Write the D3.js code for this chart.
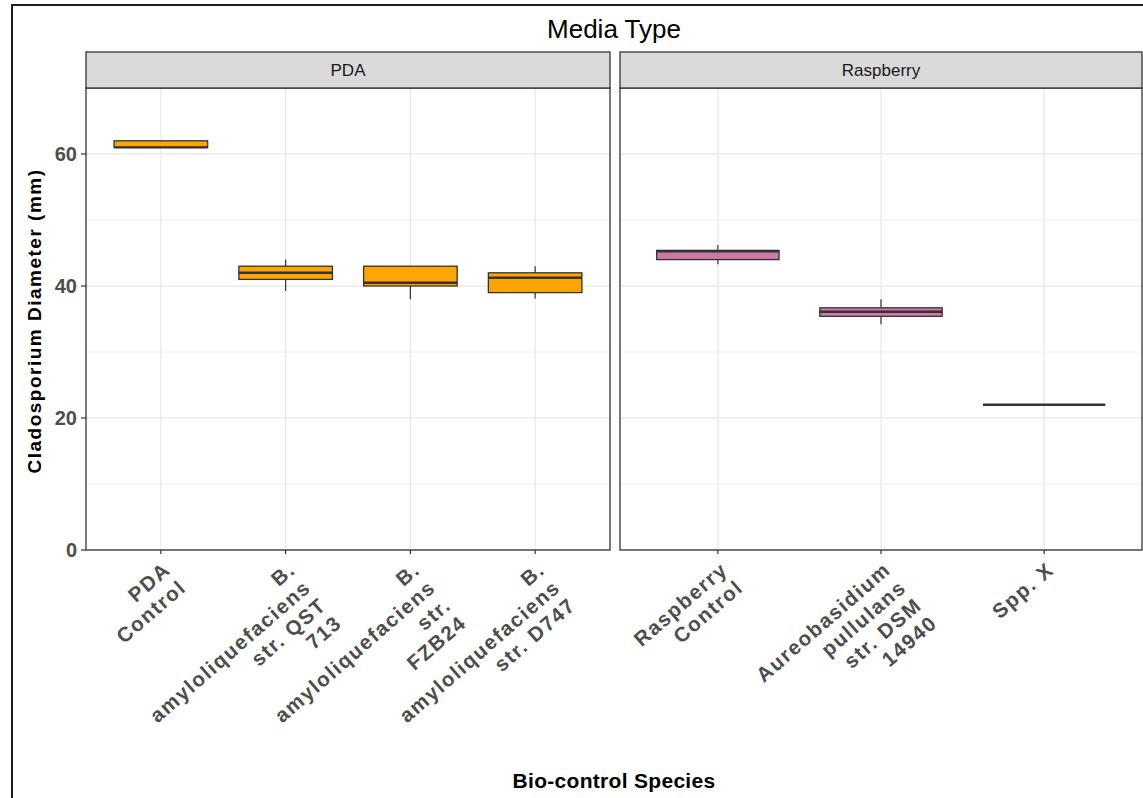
<!DOCTYPE html>
<html>
<head>
<meta charset="utf-8">
<script src="https://cdn.jsdelivr.net/npm/d3@7"></script>
<style>
  body { margin: 0; background: #fff; }
  text { font-family: "Liberation Sans", Arial, sans-serif; }
</style>
</head>
<body>
<script>
// // DATA //////////////////////////////////////////////////////////////

const mediaTypes = ["PDA", "Raspberry"];
const mediaColors = ["#FFA500", "#CC79A7"];

// PDA panel
const pdaSpecies = [
  "PDA\nControl",
  "B.\namyloliquefaciens\nstr. QST\n713",
  "B.\namyloliquefaciens\nstr.\nFZB24",
  "B.\namyloliquefaciens\nstr. D747"
];
const pdaMin = [61, 39.25, 38, 38.1];
const pdaQ1 = [61, 41, 40, 39];
const pdaMedian = [61, 42, 40.5, 41.25];
const pdaQ3 = [62, 43, 43, 42];
const pdaMax = [62, 44, 43, 43];

// Raspberry panel
const raspSpecies = [
  "Raspberry\nControl",
  "Aureobasidium\npullulans\nstr. DSM\n14940",
  "Spp. X"
];
const raspMin = [43.3, 34.2, 22];
const raspQ1 = [44, 35.4, 22];
const raspMedian = [45.25, 36.1, 22];
const raspQ3 = [45.4, 36.7, 22];
const raspMax = [46.2, 38, 22];

const yTicks = [0, 20, 40, 60];
const yMinor = [10, 30, 50];

// // LAYOUT //////////////////////////////////////////////////////////////

const W = 1143, H = 798;
const panelTop = 88, panelBottom = 550, stripTop = 52;
const panelX = [[86, 610], [620, 1142]];

const svg = d3.select('body')
  .append('svg')
  .attr('width', W)
  .attr('height', H);

// outer frame (image is cropped on right / bottom)
svg.append('rect')
  .attr('x', 12).attr('y', 5)
  .attr('width', W + 20).attr('height', H + 20)
  .attr('fill', 'none')
  .attr('stroke', '#1f1f1f')
  .attr('stroke-width', 2);

const y = d3.scaleLinear().domain([0, 70]).range([panelBottom, panelTop]);

const panels = [
  { species: pdaSpecies, min: pdaMin, q1: pdaQ1, med: pdaMedian, q3: pdaQ3, max: pdaMax },
  { species: raspSpecies, min: raspMin, q1: raspQ1, med: raspMedian, q3: raspQ3, max: raspMax }
];

panels.forEach((p, pi) => {
  const [x0, x1] = panelX[pi];
  const x = d3.scalePoint().domain(p.species).range([x0, x1]).padding(0.6);
  const boxW = x.step() * 0.75;
  const g = svg.append('g');

  // grid
  g.selectAll('.minor').data(yMinor).enter().append('line')
    .attr('x1', x0).attr('x2', x1)
    .attr('y1', d => y(d)).attr('y2', d => y(d))
    .attr('stroke', '#f0f0f0').attr('stroke-width', 1);
  g.selectAll('.major').data(yTicks).enter().append('line')
    .attr('x1', x0).attr('x2', x1)
    .attr('y1', d => y(d)).attr('y2', d => y(d))
    .attr('stroke', '#ebebeb').attr('stroke-width', 1.4);
  g.selectAll('.vgrid').data(p.species).enter().append('line')
    .attr('x1', d => x(d)).attr('x2', d => x(d))
    .attr('y1', panelTop).attr('y2', panelBottom)
    .attr('stroke', '#ebebeb').attr('stroke-width', 1.4);

  // boxes
  const rows = p.species.map((s, i) => ({
    s, min: p.min[i], q1: p.q1[i], med: p.med[i], q3: p.q3[i], max: p.max[i]
  }));
  const bx = g.selectAll('.box').data(rows).enter().append('g');
  bx.append('line')
    .attr('x1', d => x(d.s)).attr('x2', d => x(d.s))
    .attr('y1', d => y(d.max)).attr('y2', d => y(d.q3))
    .attr('stroke', '#333').attr('stroke-width', 1.2);
  bx.append('line')
    .attr('x1', d => x(d.s)).attr('x2', d => x(d.s))
    .attr('y1', d => y(d.q1)).attr('y2', d => y(d.min))
    .attr('stroke', '#333').attr('stroke-width', 1.2);
  bx.append('rect')
    .attr('x', d => x(d.s) - boxW / 2)
    .attr('width', boxW)
    .attr('y', d => y(d.q3))
    .attr('height', d => y(d.q1) - y(d.q3))
    .attr('fill', mediaColors[pi])
    .attr('stroke', '#333').attr('stroke-width', 1.3);
  bx.append('line')
    .attr('x1', d => x(d.s) - boxW / 2).attr('x2', d => x(d.s) + boxW / 2)
    .attr('y1', d => y(d.med)).attr('y2', d => y(d.med))
    .attr('stroke', '#333').attr('stroke-width', 2.4);

  // panel border
  g.append('rect')
    .attr('x', x0).attr('y', panelTop)
    .attr('width', x1 - x0).attr('height', panelBottom - panelTop)
    .attr('fill', 'none').attr('stroke', '#333').attr('stroke-width', 1.3);

  // strip
  g.append('rect')
    .attr('x', x0).attr('y', stripTop)
    .attr('width', x1 - x0).attr('height', panelTop - stripTop)
    .attr('fill', '#d9d9d9').attr('stroke', '#333').attr('stroke-width', 1.3);
  g.append('text')
    .attr('x', (x0 + x1) / 2).attr('y', (stripTop + panelTop) / 2)
    .attr('dy', '0.35em')
    .attr('text-anchor', 'middle')
    .attr('font-size', 17)
    .attr('fill', '#1a1a1a')
    .text(mediaTypes[pi]);

  // x ticks + labels
  g.selectAll('.xtick').data(p.species).enter().append('line')
    .attr('x1', d => x(d)).attr('x2', d => x(d))
    .attr('y1', panelBottom).attr('y2', panelBottom + 4)
    .attr('stroke', '#333').attr('stroke-width', 1.2);
  const lab = g.selectAll('.xlab').data(p.species).enter().append('text')
    .attr('transform', d => `translate(${x(d) + 1},${panelBottom + 10}) rotate(-41)`)
    .attr('text-anchor', 'end')
    .attr('font-size', 20.5)
    .attr('font-weight', 'bold')
    .attr('letter-spacing', 1.6)
    .attr('fill', '#4d4d4d');
  lab.each(function (d) {
    d.split('\n').forEach((line, li) => {
      d3.select(this).append('tspan')
        .attr('x', 0)
        .attr('dy', li === 0 ? '0.75em' : '1.15em')
        .text(line);
    });
  });
});

// y axis (left panel only)
const yAxis = svg.append('g');
yAxis.selectAll('line').data(yTicks).enter().append('line')
  .attr('x1', 81).attr('x2', 86)
  .attr('y1', d => y(d)).attr('y2', d => y(d))
  .attr('stroke', '#333').attr('stroke-width', 1.2);
yAxis.selectAll('text').data(yTicks).enter().append('text')
  .attr('x', 77).attr('y', d => y(d))
  .attr('dy', '0.36em')
  .attr('text-anchor', 'end')
  .attr('font-size', 20)
  .attr('font-weight', 'bold')
  .attr('fill', '#4d4d4d')
  .text(d => d);

// titles
svg.append('text')
  .attr('x', (86 + 1142) / 2).attr('y', 29)
  .attr('dy', '0.35em')
  .attr('text-anchor', 'middle')
  .attr('font-size', 26)
  .attr('fill', '#000')
  .text('Media Type');

svg.append('text')
  .attr('x', 614).attr('y', 781)
  .attr('dy', '0.35em')
  .attr('text-anchor', 'middle')
  .attr('font-size', 21)
  .attr('font-weight', 'bold')
  .attr('letter-spacing', 0.3)
  .text('Bio-control Species');

svg.append('text')
  .attr('transform', `translate(34,${(panelTop + panelBottom) / 2 + 2}) rotate(-90)`)
  .attr('dy', '0.35em')
  .attr('text-anchor', 'middle')
  .attr('font-size', 19)
  .attr('font-weight', 'bold')
  .attr('letter-spacing', 1.5)
  .text('Cladosporium Diameter (mm)');
</script>
</body>
</html>
